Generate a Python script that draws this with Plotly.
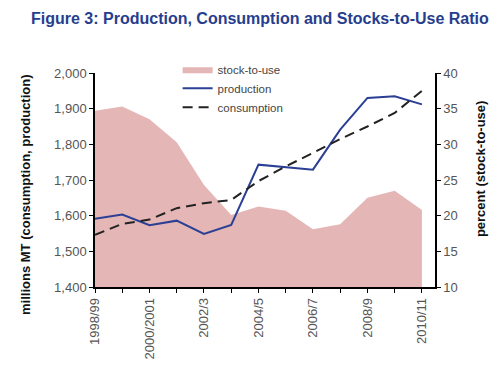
import plotly.graph_objects as go

seasons = ["1998/99", "1999/2000", "2000/2001", "2001/2", "2002/3", "2003/4", "2004/5",
           "2005/6", "2006/7", "2007/8", "2008/9", "2009/10", "2010/11"]
stock_to_use = [34.7, 35.3, 33.5, 30.3, 24.3, 20.1, 21.3, 20.7, 18.1, 18.8, 22.5, 23.5, 20.8]
production = [1591, 1603, 1573, 1586, 1549, 1574, 1743, 1736, 1729, 1841, 1930, 1935, 1912]
consumption = [1546, 1577, 1589, 1621, 1635, 1644, 1697, 1738, 1776, 1815, 1850, 1888, 1950]

x = list(range(len(seasons)))
ticktext = [s if i % 2 == 0 else "" for i, s in enumerate(seasons)]

fig = go.Figure()
fig.add_trace(go.Scatter(x=x, y=stock_to_use, name="stock-to-use", mode="lines",
                         line=dict(width=0, color="#E4B6B5"), fill="tozeroy",
                         fillcolor="#E4B6B5", yaxis="y"))
fig.add_trace(go.Scatter(x=x, y=production, name="production", mode="lines",
                         line=dict(color="#2B3F95", width=2), yaxis="y2"))
fig.add_trace(go.Scatter(x=x, y=consumption, name="consumption", mode="lines",
                         line=dict(color="#222222", width=2, dash="10px,6px"), yaxis="y2"))

tickfont = dict(family="Liberation Sans, Arial, sans-serif", size=13, color="#555555")

fig.update_layout(
    width=497, height=373,
    margin=dict(l=87, r=70, t=65, b=94),
    paper_bgcolor="white", plot_bgcolor="white",
    showlegend=True,
    legend=dict(x=0.243, y=1.085, xanchor="left", yanchor="top", bgcolor="rgba(0,0,0,0)",
                font=dict(family="Liberation Sans, Arial, sans-serif", size=11.5, color="#444444"),
                traceorder="normal"),
    xaxis=dict(range=[0, 12.48], tickvals=x, ticktext=ticktext, tickangle=-90,
               showline=True, linecolor="black", linewidth=1.5, ticks="outside",
               ticklen=4, tickcolor="black", showgrid=False, zeroline=False,
               tickfont=tickfont),
    yaxis=dict(range=[10, 40], dtick=5, side="right", showline=True, linecolor="black",
               linewidth=1.5, ticks="outside", ticklen=4, tickcolor="black",
               showgrid=False, zeroline=False, tickfont=tickfont),
    yaxis2=dict(range=[1400, 2000], dtick=100, side="left", overlaying="y",
                showline=True, linecolor="black", linewidth=1.5, ticks="outside",
                ticklen=4, tickcolor="black", showgrid=False, zeroline=False,
                tickformat=",", tickfont=tickfont),
    annotations=[
        dict(text="Figure 3: Production, Consumption and Stocks-to-Use Ratio",
             xref="paper", yref="paper", x=0.485, y=1.255, xanchor="center", yanchor="middle",
             showarrow=False,
             font=dict(family="Liberation Sans, Arial, sans-serif",
                       size=16, color="#263E8E", weight="bold")),
        dict(text="<b>millions MT (consumption, production)</b>", textangle=-90,
             xref="paper", yref="paper", x=-0.203, y=0.43, xanchor="center", yanchor="middle",
             showarrow=False,
             font=dict(family="Liberation Sans, Arial, sans-serif", size=13, color="#111111")),
        dict(text="<b>percent (stock-to-use)</b>", textangle=-90,
             xref="paper", yref="paper", x=1.132, y=0.555, xanchor="center", yanchor="middle",
             showarrow=False,
             font=dict(family="Liberation Sans, Arial, sans-serif", size=13, color="#111111")),
    ],
)

fig.write_html("out.html")
